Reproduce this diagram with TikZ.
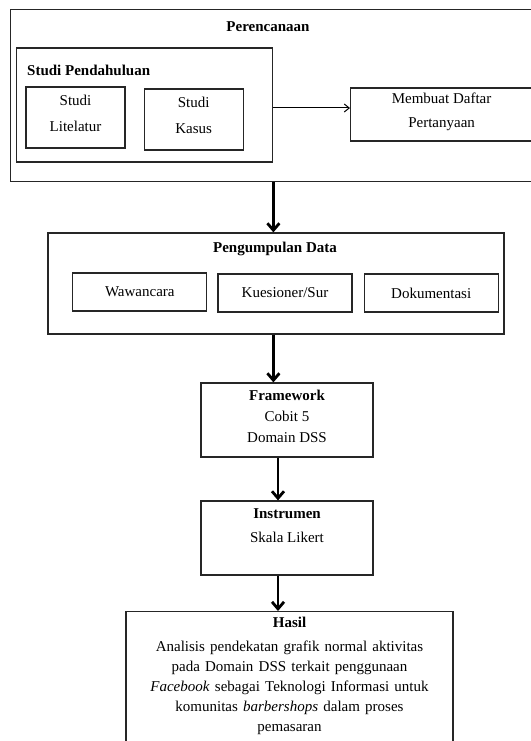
\documentclass[tikz,border=0pt]{standalone}
\usepackage{fontspec}
\setmainfont{Liberation Serif}
\usetikzlibrary{positioning,arrows.meta}

\begin{document}
\begin{tikzpicture}[
  x=1pt, y=-1pt,
  node distance=10pt and 10pt,
  kotak/.style={draw=black!85, line width=1.2pt, align=center, inner sep=0pt, font=\fontsize{15}{24}\selectfont},
  judul/.style={inner sep=0pt, font=\fontsize{15}{18}\selectfont\bfseries},
  panah/.style={-{Straight Barb[length=7pt,width=12pt]}, line width=2.8pt},
  panahtipis/.style={-{Straight Barb[length=5pt,width=8pt]}, line width=1pt}
]
\useasboundingbox (0,0) rectangle (530,741);

% Perencanaan
\node[kotak, minimum width=560pt, minimum height=172pt] (perencanaan) at (290.7,95.2) {};
\node[judul] (perencanaanJ) at (268,27) {Perencanaan};
\node[kotak, minimum width=256pt, minimum height=114pt] (pendahuluan) at (144.8,105) {};
\node[judul, anchor=west] (pendahuluanJ) at (27,70) {Studi Pendahuluan};
\node[kotak, minimum width=99pt, minimum height=61pt, font=\fontsize{15}{26}\selectfont] (litelatur) at (75.5,117.5) {Studi\\Litelatur\\[-18pt]\mbox{}};
\node[kotak, minimum width=99pt, minimum height=61pt, font=\fontsize{15}{26}\selectfont, right=18pt of litelatur, yshift=-2pt] (kasus) {Studi\\Kasus\\[-18pt]\mbox{}};
\node[kotak, anchor=west, minimum width=182pt, minimum height=53pt] (daftar) at (350,114.5) {Membuat Daftar\\Pertanyaan\\[-16pt]\mbox{}};

% Pengumpulan Data
\node[kotak, minimum width=456pt, minimum height=101pt] (pengumpulan) at (276,283.5) {};
\node[judul] (pengumpulanJ) at (275,249) {Pengumpulan Data};
\node[kotak, minimum width=134pt, minimum height=38pt] (kuesioner) at (285,293) {Kuesioner/Sur};
\node[kotak, minimum width=134pt, minimum height=38pt, left=10pt of kuesioner, yshift=1pt] (wawancara) {Wawancara};
\node[kotak, minimum width=134pt, minimum height=38pt, right=11pt of kuesioner] (dokumentasi) {Dokumentasi};

% Framework, Instrumen, Hasil
\node[kotak, minimum width=172pt, minimum height=74pt, font=\fontsize{15}{21}\selectfont] (framework) at (287,420) {\textbf{Framework}\\Cobit 5\\Domain DSS\\[-14pt]\mbox{}};
\node[kotak, minimum width=172pt, minimum height=74pt] (instrumen) at (287,538) {\textbf{Instrumen}\\Skala Likert\\\mbox{}};
\node[kotak, anchor=north, text width=317pt, inner xsep=5pt, inner ysep=5pt, font=\fontsize{15}{20}\selectfont] (hasil) at (289.5,611) {\spaceskip=5.2pt\relax
  \textbf{Hasil}\\[4pt]
  Analisis pendekatan grafik normal aktivitas\\
  pada Domain DSS terkait penggunaan\\
  \textit{Facebook} sebagai Teknologi Informasi untuk\\
  komunitas \textit{barbershops} dalam proses\\
  pemasaran\\\mbox{}};

\draw[panahtipis] ([yshift=-3pt]pendahuluan.east) -- ([yshift=-3pt]pendahuluan.east -| daftar.west);
\draw[panah] (perencanaan.south -| pendahuluan.east) -- (pengumpulan.north -| pendahuluan.east);
\draw[panah] (pengumpulan.south -| pendahuluan.east) -- (framework.north -| pendahuluan.east);
\draw[panah] ([xshift=-9pt]framework.south) -- ([xshift=-9pt]instrumen.north);
\draw[panah] ([xshift=-9pt]instrumen.south) -- ([xshift=-9pt]instrumen.south |- hasil.north);
\end{tikzpicture}
\end{document}
